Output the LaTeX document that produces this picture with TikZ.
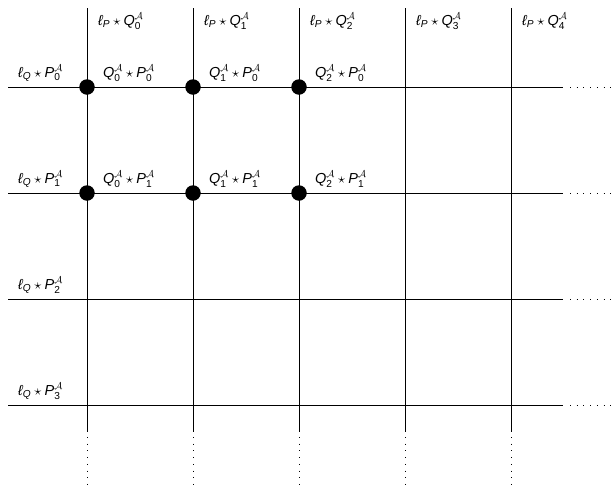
\documentclass[tikz,border=0pt]{standalone}
\usepackage{amsmath,amssymb}
\usepackage{fontspec}
\setmainfont{Liberation Sans}
\newcommand{\iv}[1]{\text{\itshape #1}}
\newcommand{\lP}{\iv{ℓ}_{\iv{P}}}
\newcommand{\lQ}{\iv{ℓ}_{\iv{Q}}}
\newcommand{\Qa}[1]{\iv{Q}_{\text{#1}}^{\mathcal{A}}}
\newcommand{\Pa}[1]{\iv{P}_{\text{#1}}^{\mathcal{A}}}

\begin{document}
\begin{tikzpicture}[
    x=1pt, y=-1pt,
    gridline/.style={line width=0.7pt},
    moreline/.style={line width=0.7pt, dash pattern=on 0.7pt off 6pt},
    hit/.style={circle, fill=black, inner sep=0pt, minimum size=15.5pt},
    lbl/.style={anchor=west, inner sep=0pt, font=\fontsize{14.5}{17}\selectfont}
]
\useasboundingbox (0,0) rectangle (613,485);

% columns: l_P * Q_i
\foreach \i in {0,...,4} {
  \coordinate (c\i top) at (87+106*\i, 8);
  \coordinate (c\i end) at (87+106*\i, 432);
  \coordinate (c\i dot) at (87+106*\i, 437);
  \coordinate (c\i far) at (87+106*\i, 485);
  \draw[gridline] (c\i top) -- (c\i end);
  \draw[moreline] (c\i dot) -- (c\i far);
  \node[lbl] (top\i) at (98+106*\i, 21) {$\lP\star\Qa{\i}$};
}

% rows: l_Q * P_j
\foreach \j in {0,...,3} {
  \coordinate (r\j left) at (8, 87+106*\j);
  \coordinate (r\j end) at (563, 87+106*\j);
  \coordinate (r\j dot) at (570, 87+106*\j);
  \coordinate (r\j far) at (613, 87+106*\j);
  \draw[gridline] (r\j left) -- (r\j end);
  \draw[moreline] (r\j dot) -- (r\j far);
  \node[lbl] (side\j) at (18, 73+106*\j) {$\lQ\star\Pa{\j}$};
}

% computed products
\foreach \i in {0,1,2} {
  \foreach \j in {0,1} {
    \node[hit] (hit\i\j) at (c\i top |- r\j left) {};
    \node[lbl] (cell\i\j) at (103+106*\i, 73+106*\j) {$\Qa{\i}\star\Pa{\j}$};
  }
}
\end{tikzpicture}
\end{document}
